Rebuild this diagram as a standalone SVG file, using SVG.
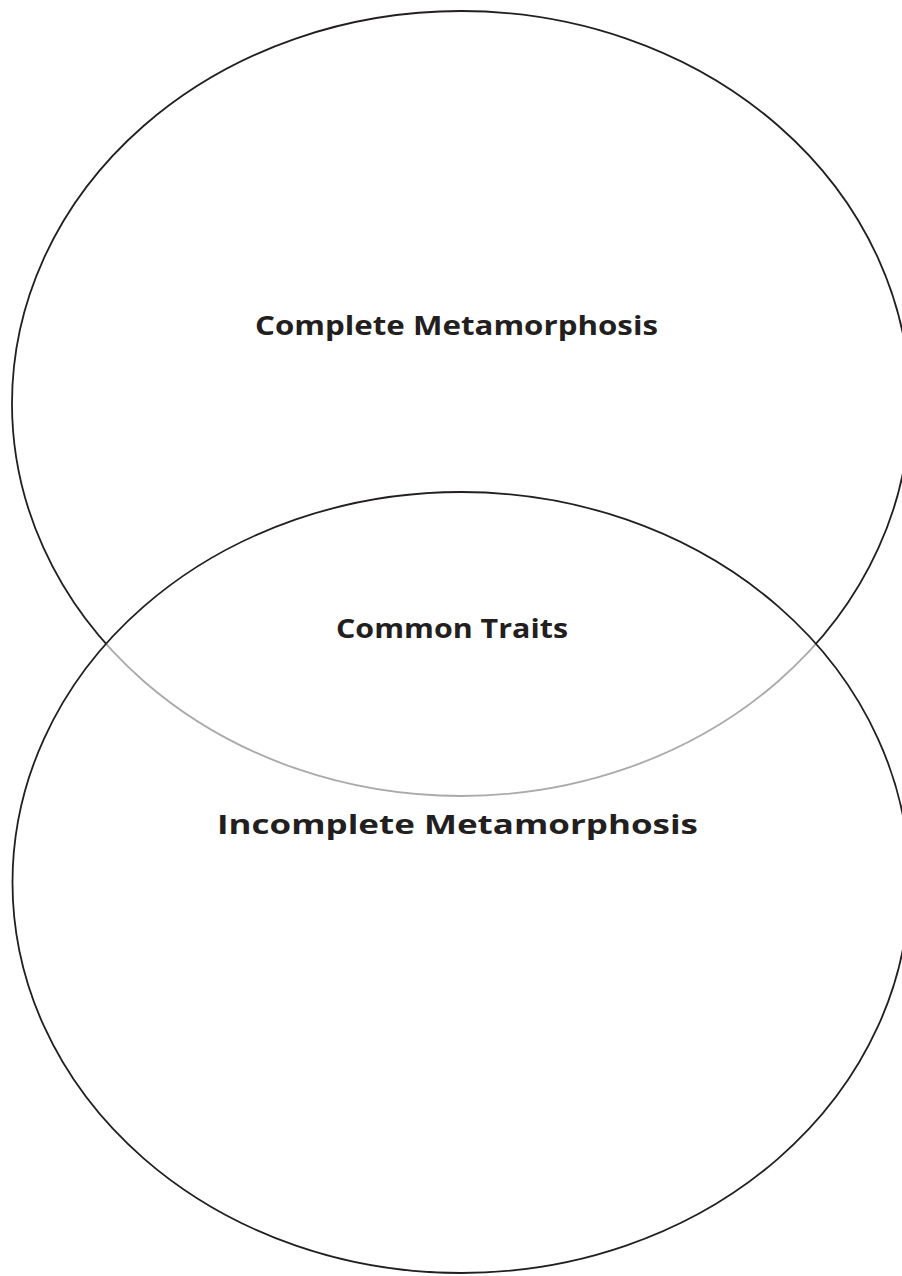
<svg xmlns="http://www.w3.org/2000/svg" width="902" height="1276" viewBox="0 0 902 1276">
  <style>
    .ring { fill: none; stroke: #231f20; stroke-width: 1.8; }
    .label { font-family: "Open Sans", Lato, "Liberation Sans", sans-serif; font-weight: bold; font-size: 27px; fill: #231f20; text-anchor: start; }
  </style>
  <rect width="902" height="1276" fill="#ffffff"/>
  <g id="complete">
    <ellipse class="ring" cx="461" cy="403.5" rx="449" ry="392.5"/>
    <text class="label" x="255" y="335" textLength="403" lengthAdjust="spacingAndGlyphs">Complete Metamorphosis</text>
  </g>
  <g id="incomplete">
    <ellipse cx="461" cy="882.5" rx="448.5" ry="390.5" fill="#ffffff" fill-opacity="0.62" stroke="none"/>
    <ellipse class="ring" cx="461" cy="882.5" rx="448.5" ry="390.5"/>
    <text class="label" x="217" y="834" textLength="481" lengthAdjust="spacingAndGlyphs">Incomplete Metamorphosis</text>
  </g>
  <g id="common">
    <text class="label" x="336" y="638" textLength="232" lengthAdjust="spacingAndGlyphs">Common Traits</text>
  </g>
  <g id="connectors"></g>
</svg>
